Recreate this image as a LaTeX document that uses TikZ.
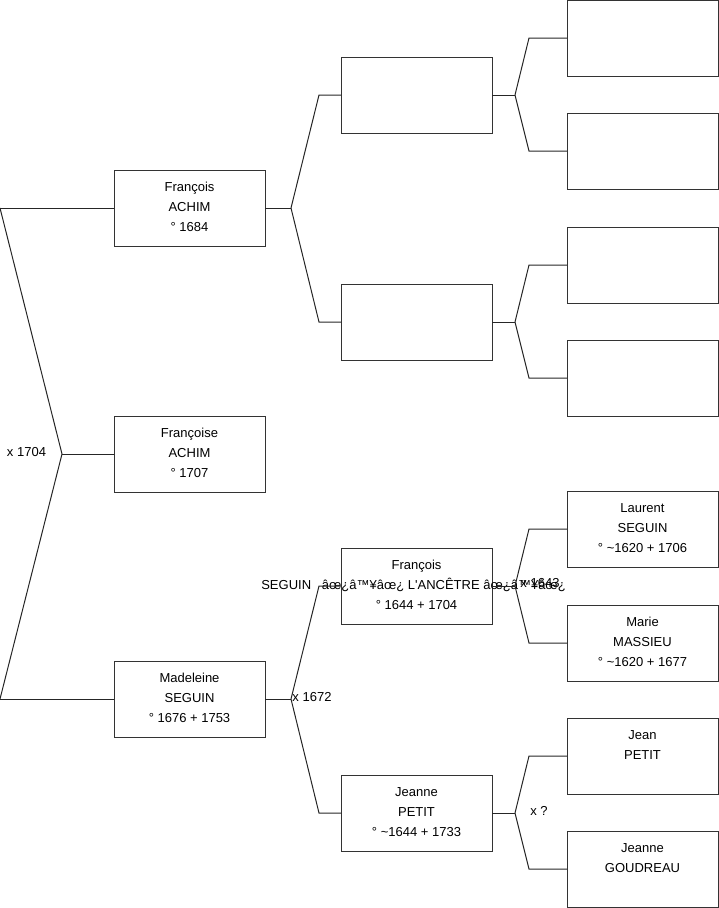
\documentclass[tikz,border=0pt]{standalone}
\usepackage{fontspec}
\setmainfont{Liberation Sans}[Ligatures=TeXOff]
\newcommand{\pbox}[1]{\parbox[c][76pt][t]{151pt}{\centering\rule{0pt}{21pt}#1}}
\begin{document}
\begin{tikzpicture}[x=1pt,y=-1pt,
  person/.style={draw=black!80, line width=1pt, rectangle, inner sep=0pt, outer sep=0pt,
    anchor=north west, minimum width=151pt, minimum height=76pt,
    font=\fontsize{13}{20}\selectfont},
  link/.style={draw=black!85, line width=1pt},
  marr/.style={inner sep=0pt, font=\fontsize{13}{16}\selectfont}]
\useasboundingbox (0,0) rectangle (719,908);

% generation 1
\node[person] (fa) at (114,170) {\pbox{François\\ACHIM\\° 1684}};
\node[person] (fe) at (114,416) {\pbox{Françoise\\ACHIM\\° 1707}};
\node[person] (ms) at (114,661) {\pbox{Madeleine\\SEGUIN\\° 1676 + 1753}};

% generation 2
\node[person] (b1) at (341,57) {\pbox{}};
\node[person] (b2) at (341,284) {\pbox{}};
\node[person] (fs) at (341,548) {\pbox{François\\\makebox[0pt][c]{\kern-6pt SEGUIN\ \ \ âœ¿â™¥âœ¿ L'ANCÊTRE âœ¿â™¥âœ¿}\\° 1644 + 1704}};
\node[person] (jp) at (341,775) {\pbox{Jeanne\\PETIT\\° \textasciitilde1644 + 1733}};

% generation 3
\node[person] (c1) at (567,0) {\pbox{}};
\node[person] (c2) at (567,113) {\pbox{}};
\node[person] (c3) at (567,227) {\pbox{}};
\node[person] (c4) at (567,340) {\pbox{}};
\node[person] (ls) at (567,491) {\pbox{Laurent\\SEGUIN\\° \textasciitilde1620 + 1706}};
\node[person] (mm) at (567,605) {\pbox{Marie\\MASSIEU\\° \textasciitilde1620 + 1677}};
\node[person] (jpe) at (567,718) {\pbox{Jean\\PETIT}};
\node[person] (jg) at (567,831) {\pbox{Jeanne\\GOUDREAU}};

% fork points
\coordinate (l1) at (0,208);
\coordinate (l2) at (0,699);
\coordinate (k0) at (62,454);
\coordinate (k1) at (291,208);
\coordinate (k2) at (291,699);
\coordinate (k3) at (515,95);
\coordinate (k4) at (515,322);
\coordinate (k5) at (515,586);
\coordinate (k6) at (515,813);

% connectors
\path[link] (l1) -- (fa.west);
\path[link] (l2) -- (ms.west);
\path[link] (l1) -- (k0) -- (l2);
\path[link] (k0) -- (fe.west);

\path[link] (fa.east) -- (k1);
\path[link] (k1) -- ([xshift=-22pt]b1.west) -- (b1.west);
\path[link] (k1) -- ([xshift=-22pt]b2.west) -- (b2.west);
\path[link] (ms.east) -- (k2);
\path[link] (k2) -- ([xshift=-22pt]fs.west) -- (fs.west);
\path[link] (k2) -- ([xshift=-22pt]jp.west) -- (jp.west);

\path[link] (b1.east) -- (k3);
\path[link] (k3) -- ([xshift=-38pt]c1.west) -- (c1.west);
\path[link] (k3) -- ([xshift=-38pt]c2.west) -- (c2.west);
\path[link] (b2.east) -- (k4);
\path[link] (k4) -- ([xshift=-38pt]c3.west) -- (c3.west);
\path[link] (k4) -- ([xshift=-38pt]c4.west) -- (c4.west);
\path[link] (fs.east) -- (k5);
\path[link] (k5) -- ([xshift=-38pt]ls.west) -- (ls.west);
\path[link] (k5) -- ([xshift=-38pt]mm.west) -- (mm.west);
\path[link] (jp.east) -- (k6);
\path[link] (k6) -- ([xshift=-38pt]jpe.west) -- (jpe.west);
\path[link] (k6) -- ([xshift=-38pt]jg.west) -- (jg.west);

% marriage labels
\node[marr] (m0) at (26.5,452) {x 1704};
\node[marr] (m1) at (312,697) {x 1672};
\node[marr] (m2) at (540,583) {x 1643};
\node[marr] (m3) at (539,811) {x ?};
\end{tikzpicture}
\end{document}
